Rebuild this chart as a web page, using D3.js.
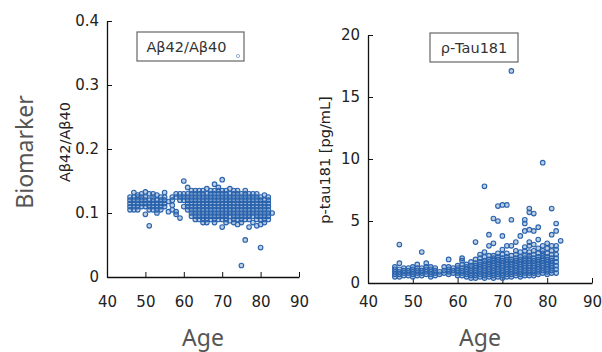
<!DOCTYPE html>
<html>
<head>
<meta charset="utf-8">
<script src="https://cdn.jsdelivr.net/npm/d3@7"></script>
<style>
  body { margin: 0; background: #fff; }
  svg { display: block; }
  .tick text { font-family: "DejaVu Sans", Verdana, sans-serif; font-size: 15px; fill: #222; }
</style>
</head>
<body>
<div id="chart"></div>
<script>
// ages (one column per age) and values
const abAges = [46, 47, 48, 49, 50, 51, 52, 53, 54, 55, 56, 57, 58, 59, 60, 61, 62, 63, 64, 65, 66, 67, 68, 69, 70, 71, 72, 73, 74, 75, 76, 77, 78, 79, 80, 81, 82, 83];
const abValues = [
  [0.105, 0.11, 0.115, 0.12, 0.125],
  [0.105, 0.11, 0.115, 0.12, 0.125, 0.132],
  [0.105, 0.11, 0.115, 0.12, 0.125, 0.128],
  [0.11, 0.115, 0.12, 0.125, 0.13],
  [0.098, 0.11, 0.115, 0.12, 0.125, 0.133],
  [0.08, 0.105, 0.11, 0.115, 0.12, 0.13],
  [0.105, 0.11, 0.115, 0.12, 0.125, 0.13],
  [0.1, 0.105, 0.11, 0.115, 0.12, 0.128],
  [0.105, 0.11, 0.115, 0.12, 0.125],
  [0.11, 0.115, 0.12, 0.125, 0.132],
  [0.102, 0.118],
  [0.105, 0.112, 0.12, 0.125],
  [0.098, 0.102, 0.125, 0.13],
  [0.092, 0.12, 0.125, 0.13],
  [0.11, 0.12, 0.125, 0.13, 0.15],
  [0.105, 0.11, 0.115, 0.12, 0.125, 0.13, 0.14],
  [0.095, 0.1, 0.105, 0.11, 0.115, 0.12, 0.125, 0.13, 0.135],
  [0.09, 0.095, 0.1, 0.105, 0.11, 0.115, 0.12, 0.125, 0.13, 0.135],
  [0.09, 0.095, 0.1, 0.105, 0.11, 0.115, 0.12, 0.125, 0.13, 0.135],
  [0.085, 0.09, 0.095, 0.1, 0.105, 0.11, 0.115, 0.12, 0.125, 0.13, 0.135],
  [0.085, 0.09, 0.095, 0.1, 0.105, 0.11, 0.115, 0.12, 0.125, 0.13, 0.138],
  [0.09, 0.095, 0.1, 0.105, 0.11, 0.115, 0.12, 0.125, 0.13, 0.135],
  [0.085, 0.09, 0.095, 0.1, 0.105, 0.11, 0.115, 0.12, 0.125, 0.13, 0.135, 0.145],
  [0.09, 0.095, 0.1, 0.105, 0.11, 0.115, 0.12, 0.125, 0.13, 0.135, 0.14],
  [0.078, 0.09, 0.095, 0.1, 0.105, 0.11, 0.115, 0.12, 0.125, 0.13, 0.135, 0.152],
  [0.085, 0.09, 0.095, 0.1, 0.105, 0.11, 0.115, 0.12, 0.125, 0.13, 0.135],
  [0.088, 0.095, 0.1, 0.105, 0.11, 0.115, 0.12, 0.125, 0.13, 0.138],
  [0.085, 0.09, 0.095, 0.1, 0.105, 0.11, 0.115, 0.12, 0.125, 0.13, 0.135],
  [0.082, 0.09, 0.095, 0.1, 0.105, 0.11, 0.115, 0.12, 0.125, 0.13, 0.135],
  [0.018, 0.085, 0.09, 0.095, 0.1, 0.105, 0.11, 0.115, 0.12, 0.125, 0.13],
  [0.058, 0.09, 0.095, 0.1, 0.105, 0.11, 0.115, 0.12, 0.125, 0.13, 0.135],
  [0.078, 0.09, 0.095, 0.1, 0.105, 0.11, 0.115, 0.12, 0.125, 0.13],
  [0.085, 0.095, 0.1, 0.105, 0.11, 0.115, 0.12, 0.125, 0.13],
  [0.08, 0.09, 0.095, 0.1, 0.105, 0.11, 0.115, 0.12, 0.125, 0.13],
  [0.046, 0.082, 0.09, 0.095, 0.1, 0.105, 0.11, 0.115, 0.12, 0.125],
  [0.085, 0.09, 0.095, 0.1, 0.105, 0.11, 0.115, 0.12, 0.128],
  [0.09, 0.095, 0.1, 0.105, 0.11, 0.115, 0.12, 0.125],
  [0.1]
];

const tauAges = abAges;
const tauValues = [
  [0.5, 0.7, 0.9, 1.1, 1.3],
  [0.5, 0.7, 0.9, 1.1, 1.6, 3.1],
  [0.6, 0.8, 1.0, 1.2],
  [0.6, 0.8, 1.0, 1.2],
  [0.5, 0.7, 0.9, 1.1, 1.3],
  [0.6, 0.8, 1.0, 1.2, 1.5],
  [0.6, 0.8, 1.0, 1.2, 2.5],
  [0.7, 0.9, 1.1, 1.3, 1.6],
  [0.5, 0.7, 0.9, 1.1, 1.3],
  [0.6, 0.8, 1.0, 1.2],
  [0.7, 0.9],
  [0.8, 1.0, 1.3],
  [0.7, 0.9, 1.1, 1.3, 1.9],
  [0.8, 1.0, 1.2],
  [0.6, 0.8, 1.0, 1.2, 1.4],
  [0.6, 0.8, 1.0, 1.2, 1.5, 1.8, 2.0],
  [0.5, 0.7, 0.9, 1.1, 1.3, 1.5],
  [0.4, 0.6, 0.8, 1.0, 1.2, 1.4, 1.7],
  [0.4, 0.6, 0.8, 1.0, 1.2, 1.4, 1.6, 1.9, 3.3],
  [0.5, 0.7, 0.9, 1.1, 1.3, 1.5, 1.7, 2.0, 2.3],
  [0.4, 0.6, 0.8, 1.0, 1.2, 1.4, 1.6, 1.8, 2.1, 2.5, 7.8],
  [0.5, 0.7, 0.9, 1.1, 1.3, 1.5, 1.7, 1.9, 2.2, 3.0, 3.9],
  [0.4, 0.6, 0.8, 1.0, 1.2, 1.4, 1.6, 1.8, 2.0, 2.2, 3.2, 5.2],
  [0.5, 0.7, 0.9, 1.1, 1.3, 1.5, 1.7, 1.9, 2.1, 2.4, 5.0, 6.2],
  [0.4, 0.6, 0.8, 1.0, 1.2, 1.4, 1.6, 1.8, 2.0, 2.3, 2.7, 3.8, 6.3],
  [0.5, 0.7, 0.9, 1.1, 1.3, 1.5, 1.7, 1.9, 2.1, 2.4, 3.0, 6.3],
  [0.5, 0.7, 0.9, 1.1, 1.3, 1.5, 1.7, 1.9, 2.2, 3.0, 5.1, 17.1],
  [0.6, 0.8, 1.0, 1.2, 1.4, 1.6, 1.8, 2.0, 2.3, 2.6, 3.3],
  [0.5, 0.7, 0.9, 1.1, 1.3, 1.5, 1.7, 1.9, 2.1, 2.5, 3.8],
  [0.6, 0.8, 1.0, 1.2, 1.4, 1.6, 1.8, 2.0, 2.2, 2.6, 2.9, 4.2, 4.8, 5.1],
  [0.6, 0.8, 1.0, 1.2, 1.4, 1.6, 1.8, 2.0, 2.2, 2.5, 3.0, 3.3, 4.3, 5.7, 6.0],
  [0.6, 0.8, 1.0, 1.2, 1.4, 1.6, 1.8, 2.0, 2.3, 2.6, 3.1, 4.2, 5.6],
  [0.7, 0.9, 1.1, 1.3, 1.5, 1.7, 1.9, 2.1, 2.4, 2.8, 3.5, 4.5],
  [0.8, 1.0, 1.2, 1.4, 1.6, 1.8, 2.0, 2.2, 2.4, 2.6, 3.0, 9.7],
  [0.7, 0.9, 1.1, 1.3, 1.5, 1.7, 1.9, 2.1, 2.4, 2.8, 3.2],
  [0.8, 1.0, 1.2, 1.4, 1.6, 1.8, 2.0, 2.3, 2.6, 3.0, 3.9, 6.0],
  [0.8, 1.1, 1.4, 1.7, 2.0, 2.3, 2.7, 3.0, 4.2, 4.8],
  [3.4]
];

const xTicks = [40, 50, 60, 70, 80, 90];
const abTicks = [0, 0.1, 0.2, 0.3, 0.4];
const tauTicks = [0, 5, 10, 15, 20];

const W = 602, H = 352;
const svg = d3.select("#chart").append("svg").attr("width", W).attr("height", H);

function flatten(ages, vals) {
  const pts = [];
  ages.forEach((a, i) => vals[i].forEach(v => pts.push({ age: a, v: v })));
  return pts;
}

function panel(opt) {
  const x = d3.scaleLinear().domain([40, 90]).range([opt.x0, opt.x1]);
  const y = d3.scaleLinear().domain(opt.yDomain).range([opt.y0, opt.y1]);
  const g = svg.append("g");

  g.append("g")
    .attr("transform", "translate(0," + opt.y0 + ")")
    .call(d3.axisBottom(x).tickValues(xTicks).tickSize(-5).tickSizeOuter(0).tickPadding(opt.xpad))
    .call(a => a.select(".domain").attr("stroke", "#111").attr("stroke-width", 1.3));

  g.append("g")
    .attr("transform", "translate(" + opt.x0 + ",0)")
    .call(d3.axisLeft(y).tickValues(opt.yTicks).tickSize(-5).tickSizeOuter(0).tickPadding(8).tickFormat(opt.fmt))
    .call(a => a.select(".domain").attr("stroke", "#111").attr("stroke-width", 1.3));

  g.selectAll(".tick line").attr("stroke", "#111");

  g.append("g").selectAll("circle")
    .data(flatten(opt.ages, opt.vals))
    .join("circle")
    .attr("cx", d => x(d.age))
    .attr("cy", d => y(d.v))
    .attr("r", 2.3)
    .attr("fill", "rgba(40,95,170,0.3)")
    .attr("stroke", "#2a63ad")
    .attr("stroke-width", 1.1);

  // legend box
  g.append("rect")
    .attr("x", opt.lx).attr("y", opt.ly).attr("width", opt.lw).attr("height", 29)
    .attr("fill", "#fff").attr("stroke", "#666").attr("stroke-width", 1.2);
  g.append("text")
    .attr("x", opt.lx + opt.lw / 2 - (opt.legendDot ? 4 : 0)).attr("y", opt.ly + 20)
    .attr("text-anchor", "middle")
    .style("font-family", "'DejaVu Sans', Verdana, sans-serif").style("font-size", "14.5px").style("fill", "#333")
    .text(opt.legend);
  if (opt.legendDot) {
    g.append("circle").attr("cx", opt.lx + opt.lw - 6).attr("cy", opt.ly + 24)
      .attr("r", 1.6).attr("fill", "none").attr("stroke", "#7a98bf").attr("stroke-width", 0.8);
  }

  // axis titles
  g.append("text")
    .attr("x", (opt.x0 + opt.x1) / 2).attr("y", 346)
    .attr("text-anchor", "middle")
    .style("font-family", "'Noto Sans', 'DejaVu Sans', sans-serif").style("font-size", "23px").style("fill", "#555")
    .text("Age");
  g.append("text")
    .attr("transform", "translate(" + opt.ylx + "," + opt.yly + ") rotate(-90)")
    .attr("text-anchor", "middle")
    .style("font-family", "'DejaVu Sans', Verdana, sans-serif").style("font-size", "14.5px").style("fill", "#222")
    .text(opt.ylabel);
}

panel({
  x0: 107, x1: 299, y0: 277, y1: 21, yDomain: [0, 0.4], yTicks: abTicks,
  fmt: d => d === 0 ? "0" : d3.format(".1f")(d),
  ages: abAges, vals: abValues, xpad: 19,
  lx: 137, ly: 32, lw: 107, legend: "Aβ42/Aβ40", legendDot: true,
  ylabel: "Aβ42/Aβ40", ylx: 70, yly: 142
});

panel({
  x0: 368, x1: 592, y0: 283, y1: 35, yDomain: [0, 20], yTicks: tauTicks,
  fmt: d3.format("d"),
  ages: tauAges, vals: tauValues, xpad: 13,
  lx: 430, ly: 33, lw: 88, legend: "ρ-Tau181", legendDot: false,
  ylabel: "p-tau181 [pg/mL]", ylx: 330, yly: 160
});

svg.append("text")
  .attr("transform", "translate(33,152) rotate(-90)")
  .attr("text-anchor", "middle")
  .style("font-family", "'Noto Sans', 'DejaVu Sans', sans-serif").style("font-size", "23px").style("fill", "#555")
  .text("Biomarker");
</script>
</body>
</html>
